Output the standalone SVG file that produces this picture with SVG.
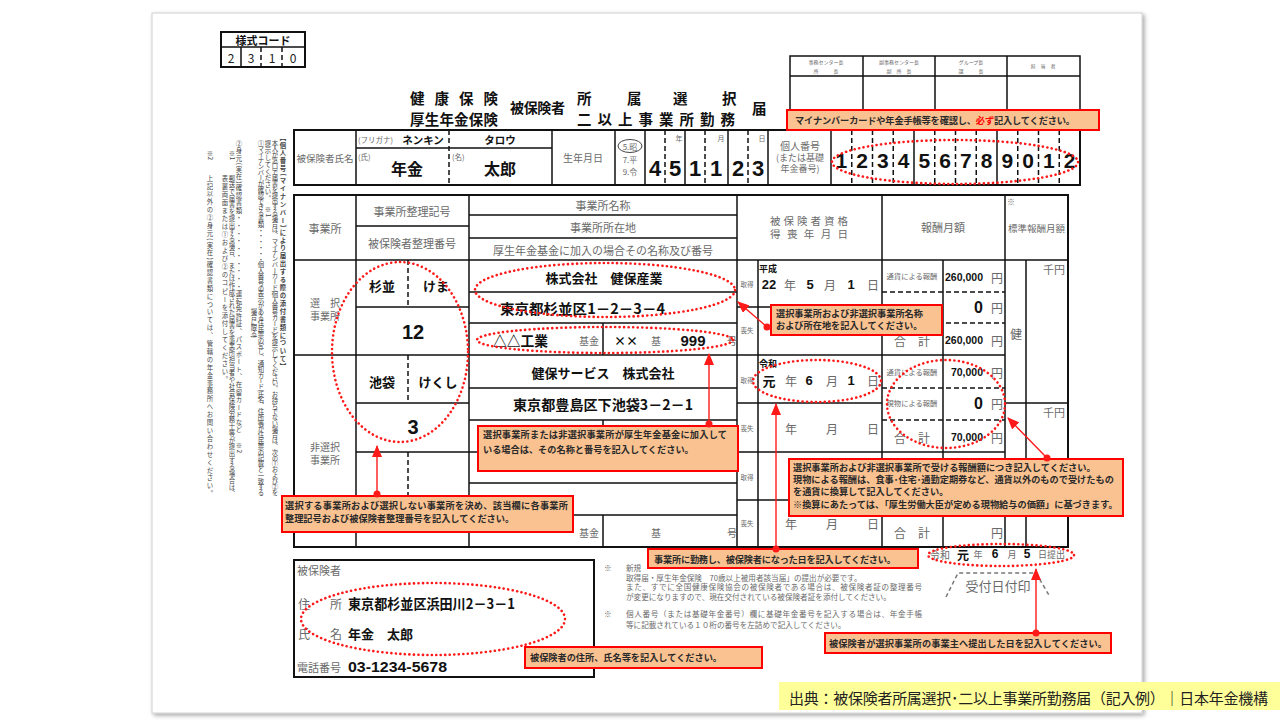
<svg xmlns="http://www.w3.org/2000/svg" width="1280" height="720" viewBox="0 0 1280 720">
<defs>
<style>
.lb{font-family:"Noto Sans CJK JP","Noto Sans CJK SC",sans-serif;fill:#6a6a6a;dominant-baseline:central}
.en{font-family:"Noto Sans CJK JP","Noto Sans CJK SC",sans-serif;font-weight:700;fill:#111;dominant-baseline:central}
.nm{font-family:"Liberation Sans",sans-serif;font-weight:700;fill:#111;dominant-baseline:central}
.co{font-family:"Noto Sans CJK JP","Noto Sans CJK SC",sans-serif;font-weight:700;font-size:9.2px;fill:#2a2a2a;dominant-baseline:central}
.vt{font-family:"Noto Sans CJK JP","Noto Sans CJK SC",sans-serif;font-size:6.4px;fill:#444;writing-mode:vertical-rl}
.m{text-anchor:middle}
.e{text-anchor:end}
.g{fill:none;stroke:#111;stroke-width:1.5}
.g2{fill:none;stroke:#111;stroke-width:2}
.gd{fill:none;stroke:#111;stroke-width:1.5;stroke-dasharray:5 3}
.el{fill:none;stroke:#FF1A1A;stroke-width:2.6;stroke-dasharray:0.1 4.4;stroke-linecap:round}
.cb{fill:#FAC291;stroke:#FF0000;stroke-width:2}
.ar{fill:none;stroke:#FF1A1A;stroke-width:1.4;marker-start:url(#dt);marker-end:url(#ah)}
</style>
<marker id="ah" markerUnits="userSpaceOnUse" markerWidth="12" markerHeight="10" refX="11" refY="5" orient="auto"><path d="M0,0 L12,5 L0,10 z" fill="#FF1A1A"/></marker>
<marker id="dt" markerUnits="userSpaceOnUse" markerWidth="8" markerHeight="8" refX="4" refY="4"><circle cx="4" cy="4" r="3.5" fill="#FF1A1A"/></marker>
<filter id="sh" x="-2%" y="-2%" width="105%" height="105%"><feDropShadow dx="2" dy="2" stdDeviation="2" flood-color="#000" flood-opacity="0.35"/></filter>
</defs>
<rect width="1280" height="720" fill="#fff"/>
<g id="sheet"><rect x="152" y="13" width="990" height="700" fill="#fff" stroke="#d0d0d0" stroke-width="1" filter="url(#sh)"/></g>

<g id="style-code">
<rect x="221" y="32" width="84" height="35" class="g2"/>
<path class="g" d="M221,47 H305 M241,47 V67"/>
<path class="gd" d="M261,47 V67 M282,47 V67"/>
<text class="en m" x="263" y="40" font-size="11">様式コード</text>
<text class="lb m" x="231" y="57" font-size="12" style="fill:#222">2</text>
<text class="lb m" x="251" y="57" font-size="12" style="fill:#222">3</text>
<text class="lb m" x="272" y="57" font-size="12" style="fill:#222">1</text>
<text class="lb m" x="293" y="57" font-size="12" style="fill:#222">0</text>
</g>

<g id="title">
<text class="en" x="410" y="97" font-size="14.5" textLength="88" lengthAdjust="spacing">健康保険</text>
<text class="en" x="410" y="118" font-size="14.5" textLength="88" lengthAdjust="spacing">厚生年金保険</text>
<text class="en" x="510" y="107" font-size="14" textLength="55" lengthAdjust="spacing">被保険者</text>
<text class="en" x="577" y="97" font-size="14.5">所</text>
<text class="en" x="627" y="97" font-size="14.5">属</text>
<text class="en" x="673" y="97" font-size="14.5">選</text>
<text class="en" x="722" y="97" font-size="14.5">択</text>
<text class="en" x="577" y="118" font-size="14.5" textLength="158" lengthAdjust="spacing">二以上事業所勤務</text>
<text class="en" x="752" y="107" font-size="14.5">届</text>
</g>

<g id="approval">
<rect x="790" y="56" width="290" height="56" class="g"/>
<path class="g" d="M790,76 H1080 M863,56 V112 M935,56 V112 M1007,56 V112"/>
<text class="lb m" x="826" y="61" font-size="5">事務センター長</text>
<text class="lb m" x="826" y="70" font-size="5">所　　　長</text>
<text class="lb m" x="899" y="61" font-size="5">副事務センター長</text>
<text class="lb m" x="899" y="70" font-size="5">副　所　長</text>
<text class="lb m" x="971" y="61" font-size="5">グループ長</text>
<text class="lb m" x="971" y="70" font-size="5">課　　　長</text>
<text class="lb m" x="1043" y="65" font-size="5">担　当　者</text>
</g>

<g id="vertical-notes">
<text class="vt" x="283" y="134" font-weight="700" textLength="236" lengthAdjust="spacing">【個人番号(マイナンバー)により届出する際の添付書類について】</text>
<text class="vt" x="275" y="140" textLength="356" lengthAdjust="spacing">本人が窓口で届書を提出する場合は、マイナンバーカード(個人番号カード)を提示してください。お持ちでない場合は、次の①および②を</text>
<text class="vt" x="268" y="140" textLength="77" lengthAdjust="spacing">提示してください。　※1</text>
<text class="vt" x="261" y="140" textLength="356" lengthAdjust="spacing">①マイナンバーが確認できる書類・・・・・・個人番号の表示がある住民票の写し、通知カード(氏名、住所等が住民票の記載と一致する</text>
<text class="vt" x="254" y="308" textLength="30" lengthAdjust="spacing">場合に限る)</text>
<text class="vt" x="239" y="140" textLength="313" lengthAdjust="spacing">②身元(実在)確認書類・・・・・・・・・・運転免許証、パスポート、在留カードなど　※2</text>
<text class="vt" x="232" y="150">※1</text>
<text class="vt" x="232" y="175" textLength="322" lengthAdjust="spacing">郵送で届書を提出する場合、または作成された届書を事業所担当者や社会保険労務士等が提出する場合は、</text>
<text class="vt" x="225" y="175" textLength="208" lengthAdjust="spacing">表裏両面または①および②のコピーを添付してください。</text>
<text class="vt" x="210" y="150">※2</text>
<text class="vt" x="210" y="175" textLength="322" lengthAdjust="spacing">上記以外の②身元(実在)確認書類については、管轄の年金事務所へお問い合わせください。</text>
</g>

<g id="name-row">
<rect x="294" y="130" width="786" height="55" class="g2"/>
<path class="g" d="M356,130 V185 M552,130 V185 M615,130 V185 M645,130 V185 M685,130 V185 M728,130 V185 M768,130 V185 M831,130 V185 M914,130 V185 M997,130 V185 M356,148 H552"/>
<path class="gd" d="M449,130 V185 M665,130 V185 M705,130 V185 M748,130 V185 M851.75,130 V185 M872.5,130 V185 M893.25,130 V185 M934.75,130 V185 M955.5,130 V185 M976.25,130 V185 M1017.75,130 V185 M1038.5,130 V185 M1059.25,130 V185"/>
<text class="lb m" x="325" y="158" font-size="9.5">被保険者氏名</text>
<text class="lb" x="358" y="139" font-size="7.5">(フリガナ)</text>
<text class="en m" x="423" y="139" font-size="10.5">ネンキン</text>
<text class="en m" x="500" y="139" font-size="10.5">タロウ</text>
<text class="lb" x="358" y="156" font-size="7.5">(氏)</text>
<text class="en m" x="407" y="168" font-size="16">年金</text>
<text class="lb" x="452" y="156" font-size="7.5">(名)</text>
<text class="en m" x="500" y="168" font-size="16">太郎</text>
<text class="lb m" x="583" y="157" font-size="10">生年月日</text>
<ellipse cx="630" cy="146" rx="12" ry="6.5" fill="none" stroke="#444" stroke-width="1"/>
<text class="lb m" x="630" y="146" font-size="8">5.昭</text>
<text class="lb m" x="630" y="159" font-size="8">7.平</text>
<text class="lb m" x="630" y="171" font-size="8">9.令</text>
<text class="lb m" x="679" y="138" font-size="7">年</text>
<text class="lb m" x="721" y="138" font-size="7">月</text>
<text class="lb m" x="762" y="138" font-size="7">日</text>
<text class="nm m" x="655" y="168" font-size="22">4</text>
<text class="nm m" x="675" y="168" font-size="22">5</text>
<text class="nm m" x="695" y="168" font-size="22">1</text>
<text class="nm m" x="716" y="168" font-size="22">1</text>
<text class="nm m" x="738" y="168" font-size="22">2</text>
<text class="nm m" x="758" y="168" font-size="22">3</text>
<text class="lb m" x="800" y="145" font-size="10">個人番号</text>
<text class="lb m" x="800" y="157" font-size="9">(または基礎</text>
<text class="lb m" x="800" y="168" font-size="9">年金番号)</text>
<text class="nm m" x="841.4" y="160" font-size="21">1</text>
<text class="nm m" x="862.1" y="160" font-size="21">2</text>
<text class="nm m" x="882.9" y="160" font-size="21">3</text>
<text class="nm m" x="903.6" y="160" font-size="21">4</text>
<text class="nm m" x="924.4" y="160" font-size="21">5</text>
<text class="nm m" x="945.1" y="160" font-size="21">6</text>
<text class="nm m" x="965.9" y="160" font-size="21">7</text>
<text class="nm m" x="986.6" y="160" font-size="21">8</text>
<text class="nm m" x="1007.4" y="160" font-size="21">9</text>
<text class="nm m" x="1028.1" y="160" font-size="21">0</text>
<text class="nm m" x="1048.9" y="160" font-size="21">1</text>
<text class="nm m" x="1069.6" y="160" font-size="21">2</text>
</g>

<g id="main-table">
<rect x="294" y="195" width="774" height="352" class="g2"/>
<path class="g" d="M356,195 V547 M469,195 V547 M737,195 V547 M882,195 V547 M1005,195 V547 M758,260 V547 M943,260 V547 M1026,260 V547 M603,323 V355 M603,420 V452 M603,515 V547
M356,226 H469 M469,215 H737 M469,238 H737 M294,260 H1068 M294,355 H1005
M356,307 H469 M737,307 H882 M469,292 H737 M469,323 H737
M356,403 H469 M737,403 H882 M1005,403 H1068 M469,388 H737 M469,420 H737
M356,452 H1005 M469,483 H737 M469,515 H737 M356,500 H469 M737,500 H882"/>
<path class="gd" d="M408,260 V307 M408,355 V403 M408,452 V500 M882,292 H1005 M882,323 H1005 M882,388 H1005 M882,420 H1005 M882,484 H1005 M882,515 H1005"/>
<text class="lb m" x="325" y="228" font-size="11">事業所</text>
<text class="lb m" x="412" y="211" font-size="11">事業所整理記号</text>
<text class="lb m" x="412" y="243" font-size="11">被保険者整理番号</text>
<text class="lb m" x="603" y="205" font-size="11">事業所名称</text>
<text class="lb m" x="603" y="227" font-size="11">事業所所在地</text>
<text class="lb m" x="603" y="250" font-size="11">厚生年金基金に加入の場合その名称及び番号</text>
<text class="lb" x="770" y="220" font-size="10.5" textLength="78" lengthAdjust="spacing">被保険者資格</text>
<text class="lb" x="770" y="233" font-size="10.5" textLength="78" lengthAdjust="spacing">得喪年月日</text>
<text class="lb m" x="943" y="227" font-size="11">報酬月額</text>
<text class="lb" x="1007" y="201" font-size="8">※</text>
<text class="lb" x="1008" y="228" font-size="9" textLength="57" lengthAdjust="spacingAndGlyphs">標準報酬月額</text>

<text class="lb m" x="325" y="302" font-size="10">選　択</text>
<text class="lb m" x="325" y="315" font-size="10">事業所</text>
<text class="en m" x="382" y="285" font-size="13">杉並</text>
<text class="en m" x="436" y="285" font-size="13">けま</text>
<text class="nm m" x="413" y="332" font-size="20">12</text>
<text class="en m" x="604" y="277" font-size="13">株式会社　健保産業</text>
<text class="en" x="500" y="308" font-size="14" textLength="165" lengthAdjust="spacingAndGlyphs">東京都杉並区1－2－3－4</text>
<text class="en" x="493" y="340" font-size="14" textLength="55" lengthAdjust="spacingAndGlyphs">△△工業</text>
<text class="lb m" x="589" y="340" font-size="10">基金</text>
<text class="en m" x="626" y="340" font-size="12">××</text>
<text class="lb m" x="656" y="340" font-size="10">基</text>
<text class="nm m" x="693" y="340" font-size="15">999</text>
<text class="lb m" x="732" y="340" font-size="10">号</text>
<text class="lb m" x="747" y="284" font-size="6.5">取得</text>
<text class="lb m" x="747" y="330" font-size="6.5">喪失</text>
<text class="en" x="759" y="268" font-size="9">平成</text>
<text class="nm m" x="769" y="284" font-size="13">22</text>
<text class="lb m" x="790" y="284" font-size="12">年</text>
<text class="nm m" x="810" y="284" font-size="13">5</text>
<text class="lb m" x="830" y="284" font-size="12">月</text>
<text class="nm m" x="851" y="284" font-size="13">1</text>
<text class="lb m" x="873" y="284" font-size="12">日</text>
<text class="lb m" x="912" y="276" font-size="7.3">通貨による報酬</text>
<text class="nm e" x="983" y="277" font-size="10.5">260,000</text>
<text class="lb m" x="997" y="277" font-size="12">円</text>
<text class="nm e" x="983" y="307" font-size="16">0</text>
<text class="lb m" x="997" y="307" font-size="12">円</text>
<text class="lb m" x="912" y="340" font-size="12">合　計</text>
<text class="nm e" x="983" y="340" font-size="10.5">260,000</text>
<text class="lb m" x="997" y="340" font-size="12">円</text>
<text class="lb m" x="1016" y="333" font-size="12">健</text>
<text class="lb e" x="1065" y="269" font-size="11">千円</text>

<text class="lb m" x="325" y="446" font-size="10">非選択</text>
<text class="lb m" x="325" y="459" font-size="10">事業所</text>
<text class="en m" x="382" y="381" font-size="13">池袋</text>
<text class="en m" x="438" y="381" font-size="13">けくし</text>
<text class="nm m" x="413" y="427" font-size="20">3</text>
<text class="en m" x="603" y="372" font-size="13">健保サービス　株式会社</text>
<text class="en" x="513" y="404" font-size="14" textLength="180" lengthAdjust="spacingAndGlyphs">東京都豊島区下池袋3－2－1</text>
<text class="lb m" x="747" y="380" font-size="6.5">取得</text>
<text class="lb m" x="747" y="428" font-size="6.5">喪失</text>
<text class="lb m" x="747" y="477" font-size="6.5">取得</text>
<text class="lb m" x="747" y="523" font-size="6.5">喪失</text>
<text class="en" x="759" y="363" font-size="9">令和</text>
<text class="en m" x="769" y="380" font-size="13">元</text>
<text class="lb m" x="791" y="380" font-size="12">年</text>
<text class="nm m" x="809" y="380" font-size="13">6</text>
<text class="lb m" x="832" y="380" font-size="12">月</text>
<text class="nm m" x="851" y="380" font-size="13">1</text>
<text class="lb m" x="873" y="380" font-size="12">日</text>
<text class="lb m" x="791" y="428" font-size="12">年</text>
<text class="lb m" x="832" y="428" font-size="12">月</text>
<text class="lb m" x="873" y="428" font-size="12">日</text>
<text class="lb m" x="791" y="523" font-size="12">年</text>
<text class="lb m" x="832" y="523" font-size="12">月</text>
<text class="lb m" x="873" y="523" font-size="12">日</text>
<text class="lb m" x="912" y="372" font-size="7.3">通貨による報酬</text>
<text class="nm e" x="983" y="372" font-size="10.5">70,000</text>
<text class="lb m" x="997" y="372" font-size="12">円</text>
<text class="lb m" x="912" y="403" font-size="7.3">現物による報酬</text>
<text class="nm e" x="983" y="403" font-size="16">0</text>
<text class="lb m" x="997" y="403" font-size="12">円</text>
<text class="lb m" x="912" y="437" font-size="12">合　計</text>
<text class="nm e" x="983" y="437" font-size="10.5">70,000</text>
<text class="lb m" x="997" y="437" font-size="12">円</text>
<text class="lb m" x="912" y="532" font-size="12">合　計</text>
<text class="lb m" x="997" y="532" font-size="12">円</text>
<text class="lb e" x="1065" y="412" font-size="11">千円</text>
<text class="lb m" x="589" y="532" font-size="10">基金</text>
<text class="lb m" x="656" y="532" font-size="10">基</text>
<text class="lb m" x="732" y="532" font-size="10">号</text>
</g>

<g id="submit-date">
<text class="lb" x="930" y="554" font-size="10">令和</text>
<text class="en m" x="963" y="554" font-size="12">元</text>
<text class="lb m" x="978" y="554" font-size="9">年</text>
<text class="nm m" x="995" y="554" font-size="12">6</text>
<text class="lb m" x="1012" y="554" font-size="9">月</text>
<text class="nm m" x="1027" y="554" font-size="12">5</text>
<text class="lb" x="1038" y="554" font-size="9">日提出</text>
<path d="M946,597 L958,573 H1036 L1050,597" fill="none" stroke="#777" stroke-width="1.5" stroke-dasharray="4 3"/>
<text class="lb m" x="998" y="585" font-size="13">受付日付印</text>
</g>

<g id="insured-box">
<rect x="294" y="560" width="300" height="117" class="g2"/>
<text class="lb" x="297" y="570" font-size="11">被保険者</text>
<text class="lb" x="298" y="603" font-size="12">住</text>
<text class="lb" x="330" y="603" font-size="12">所</text>
<text class="en" x="348" y="603" font-size="14" textLength="167" lengthAdjust="spacingAndGlyphs">東京都杉並区浜田川2－3－1</text>
<text class="lb" x="298" y="633" font-size="12">氏</text>
<text class="lb" x="330" y="633" font-size="12">名</text>
<text class="en" x="348" y="633" font-size="13">年金　太郎</text>
<text class="lb" x="297" y="667" font-size="11">電話番号</text>
<text class="nm" x="348" y="667" font-size="14" textLength="99" lengthAdjust="spacingAndGlyphs">03-1234-5678</text>
</g>

<g id="notes">
<text class="lb" x="604" y="567" font-size="7.6">※</text>
<text class="lb" x="626" y="567" font-size="7.6">新規</text>
<text class="lb" x="626" y="577" font-size="7.6">取得届・厚生年金保険　70歳以上被用者該当届」の提出が必要です。</text>
<text class="lb" x="626" y="586.5" font-size="7.6" textLength="296" lengthAdjust="spacing">また、すでに全国健康保険協会の被保険者である場合は、被保険者証の整理番号</text>
<text class="lb" x="626" y="596" font-size="7.6">が変更になりますので、現在交付されている被保険者証を添付してください。</text>
<text class="lb" x="604" y="613" font-size="7.6">※</text>
<text class="lb" x="626" y="613" font-size="7.6" textLength="296" lengthAdjust="spacing">個人番号（または基礎年金番号）欄に基礎年金番号を記入する場合は、年金手帳</text>
<text class="lb" x="626" y="624" font-size="7.6">等に記載されている１０桁の番号を左詰めで記入してください。</text>
</g>

<g id="ellipses">
<ellipse class="el" cx="955" cy="162" rx="123" ry="22"/>
<ellipse class="el" cx="605" cy="290" rx="130" ry="27"/>
<ellipse class="el" cx="605" cy="340" rx="128" ry="13"/>
<ellipse class="el" cx="400" cy="352" rx="68" ry="90"/>
<ellipse class="el" cx="817" cy="381" rx="64" ry="21"/>
<ellipse class="el" cx="946" cy="404" rx="59" ry="44"/>
<ellipse class="el" cx="1001" cy="555" rx="73" ry="11"/>
<ellipse class="el" cx="433" cy="619" rx="132" ry="36"/>
</g>

<g id="callout-mynumber">
<rect class="cb" x="787" y="110" width="312" height="20"/>
<text class="co" x="795" y="120" textLength="280" lengthAdjust="spacing">マイナンバーカードや年金手帳等を確認し、<tspan fill="#FF0000">必ず</tspan>記入してください。</text>
</g>
<g id="callout-office-name">
<rect class="cb" x="771" y="305" width="171" height="30"/>
<text class="co" x="776" y="313">選択事業所および非選択事業所名称</text>
<text class="co" x="776" y="325">および所在地を記入してください。</text>
</g>
<g id="callout-fund">
<rect class="cb" x="478" y="426" width="260" height="45"/>
<text class="co" x="483" y="434" textLength="244" lengthAdjust="spacing">選択事業所または非選択事業所が厚生年金基金に加入して</text>
<text class="co" x="483" y="449">いる場合は、その名称と番号を記入してください。</text>
</g>
<g id="callout-select">
<rect class="cb" x="282" y="496" width="291" height="36"/>
<text class="co" x="285" y="505" textLength="283" lengthAdjust="spacing">選択する事業所および選択しない事業所を決め、該当欄に各事業所</text>
<text class="co" x="285" y="518">整理記号および被保険者整理番号を記入してください。</text>
</g>
<g id="callout-pay">
<rect class="cb" x="789" y="459" width="334" height="57"/>
<text class="co" x="793" y="467">選択事業所および非選択事業所で受ける報酬額につき記入してください。</text>
<text class="co" x="793" y="479">現物による報酬は、食事･住宅･通勤定期券など、通貨以外のもので受けたもの</text>
<text class="co" x="793" y="491">を通貨に換算して記入してください。</text>
<text class="co" x="793" y="504">※換算にあたっては、「厚生労働大臣が定める現物給与の価額」に基づきます。</text>
</g>
<g id="callout-acquire">
<rect class="cb" x="648" y="549" width="270" height="19"/>
<text class="co" x="654" y="558.5" textLength="242" lengthAdjust="spacing">事業所に勤務し、被保険者になった日を記入してください。</text>
</g>
<g id="callout-insured">
<rect class="cb" x="525" y="647" width="237" height="21"/>
<text class="co" x="530" y="657" textLength="192" lengthAdjust="spacing">被保険者の住所、氏名等を記入してください。</text>
</g>
<g id="callout-submit">
<rect class="cb" x="825" y="633" width="286" height="20"/>
<text class="co" x="829" y="643" textLength="278" lengthAdjust="spacing">被保険者が選択事業所の事業主へ提出した日を記入してください。</text>
</g>

<g id="connectors">
<path class="ar" d="M767,327 L738,302"/>
<path class="ar" d="M709,424 L709,354"/>
<path class="ar" d="M377,494 L377,446"/>
<path class="ar" d="M776,549 L776,404"/>
<path class="ar" d="M1047,458 L1008,418"/>
<path class="ar" d="M1036,633 L1036,569"/>
</g>

<g id="caption">
<rect x="779" y="682" width="501" height="28" fill="#FFFF99"/>
<text class="lb" x="789" y="697" font-size="15" style="fill:#222" textLength="479" lengthAdjust="spacing">出典：被保険者所属選択･二以上事業所勤務届（記入例）｜日本年金機構</text>
</g>
</svg>
